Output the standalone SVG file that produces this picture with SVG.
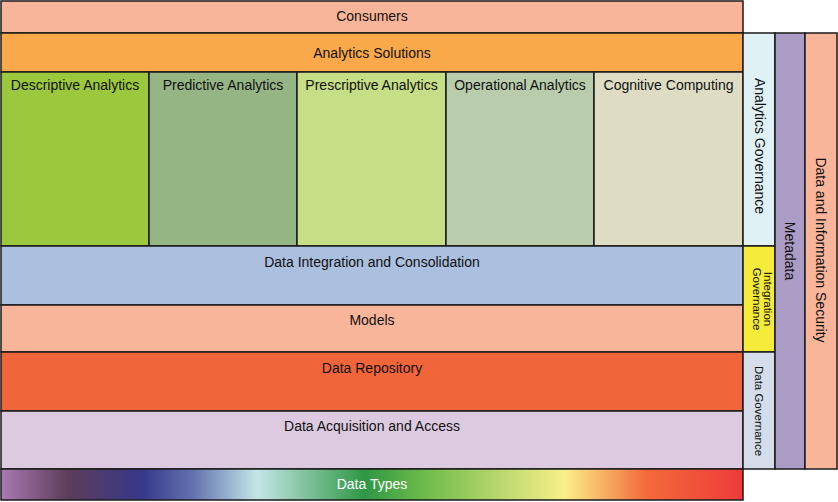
<svg xmlns="http://www.w3.org/2000/svg" width="838" height="502" viewBox="0 0 838 502">
<defs>
<linearGradient id="dt" x1="0" y1="0" x2="1" y2="0">
<stop offset="0" stop-color="#a87bb2"/>
<stop offset="0.09" stop-color="#5c3d5a"/>
<stop offset="0.19" stop-color="#363889"/>
<stop offset="0.26" stop-color="#6473b0"/>
<stop offset="0.345" stop-color="#c4e6e8"/>
<stop offset="0.49" stop-color="#2f9745"/>
<stop offset="0.57" stop-color="#6dbb4a"/>
<stop offset="0.76" stop-color="#f9f08a"/>
<stop offset="0.87" stop-color="#f26a3a"/>
<stop offset="1" stop-color="#ee3a3a"/>
</linearGradient>
</defs>
<style>
rect{stroke:#1a1a1a;stroke-width:1.5}
text{font-family:"Liberation Sans",Arial,sans-serif;font-size:14px;fill:#111;text-anchor:middle}
.sm{font-size:11.5px}
.w{fill:#fff}
</style>
<rect x="0" y="0" width="838" height="502" fill="#fff" style="stroke:none"/>
<g id="consumers"><rect x="1" y="1" width="742" height="32" fill="#f9b59a"/><text x="372" y="21">Consumers</text></g>
<g id="analytics-solutions"><rect x="1" y="33" width="742" height="39" fill="#f9a94a"/><text x="372" y="58">Analytics Solutions</text></g>
<g id="descriptive"><rect x="1" y="72" width="148" height="174" fill="#9cc83d"/><text x="75" y="90">Descriptive Analytics</text></g>
<g id="predictive"><rect x="149" y="72" width="148" height="174" fill="#95b585"/><text x="223" y="90">Predictive Analytics</text></g>
<g id="prescriptive"><rect x="297" y="72" width="149" height="174" fill="#c6de85"/><text x="371.5" y="90">Prescriptive Analytics</text></g>
<g id="operational"><rect x="446" y="72" width="148" height="174" fill="#b9cdac"/><text x="520" y="90">Operational Analytics</text></g>
<g id="cognitive"><rect x="594" y="72" width="149" height="174" fill="#deddc4"/><text x="668.5" y="90">Cognitive Computing</text></g>
<g id="integration"><rect x="1" y="246" width="742" height="59" fill="#abbfdf"/><text x="372" y="267">Data Integration and Consolidation</text></g>
<g id="models"><rect x="1" y="305" width="742" height="47" fill="#f9b59a"/><text x="372" y="325">Models</text></g>
<g id="repository"><rect x="1" y="352" width="742" height="59" fill="#f1653a"/><text x="372" y="373">Data Repository</text></g>
<g id="acquisition"><rect x="1" y="411" width="742" height="58" fill="#dccbe0"/><text x="372" y="431">Data Acquisition and Access</text></g>
<g id="data-types"><rect x="1" y="469" width="742" height="31" fill="url(#dt)"/><text class="w" x="372" y="489">Data Types</text></g>
<g id="analytics-governance"><rect x="743" y="33" width="32" height="213" fill="#e0f1f6"/><text transform="translate(755,146) rotate(90)">Analytics Governance</text></g>
<g id="integration-governance"><rect x="743" y="246" width="32" height="106" fill="#f5eb3a"/><text class="sm" transform="translate(757.5,299) rotate(90)"><tspan x="0" y="-6.5">Integration</tspan><tspan x="0" y="4.5">Governance</tspan></text></g>
<g id="data-governance"><rect x="743" y="352" width="32" height="117" fill="#d4dde9"/><text class="sm" transform="translate(755,411) rotate(90)">Data Governance</text></g>
<g id="metadata"><rect x="775" y="33" width="30" height="436" fill="#ab9cc5"/><text transform="translate(785,251) rotate(90)">Metadata</text></g>
<g id="security"><rect x="805" y="33" width="32" height="436" fill="#f9b59a"/><text transform="translate(816,250) rotate(90)">Data and Information Security</text></g>
<g id="connectors"></g>
</svg>
